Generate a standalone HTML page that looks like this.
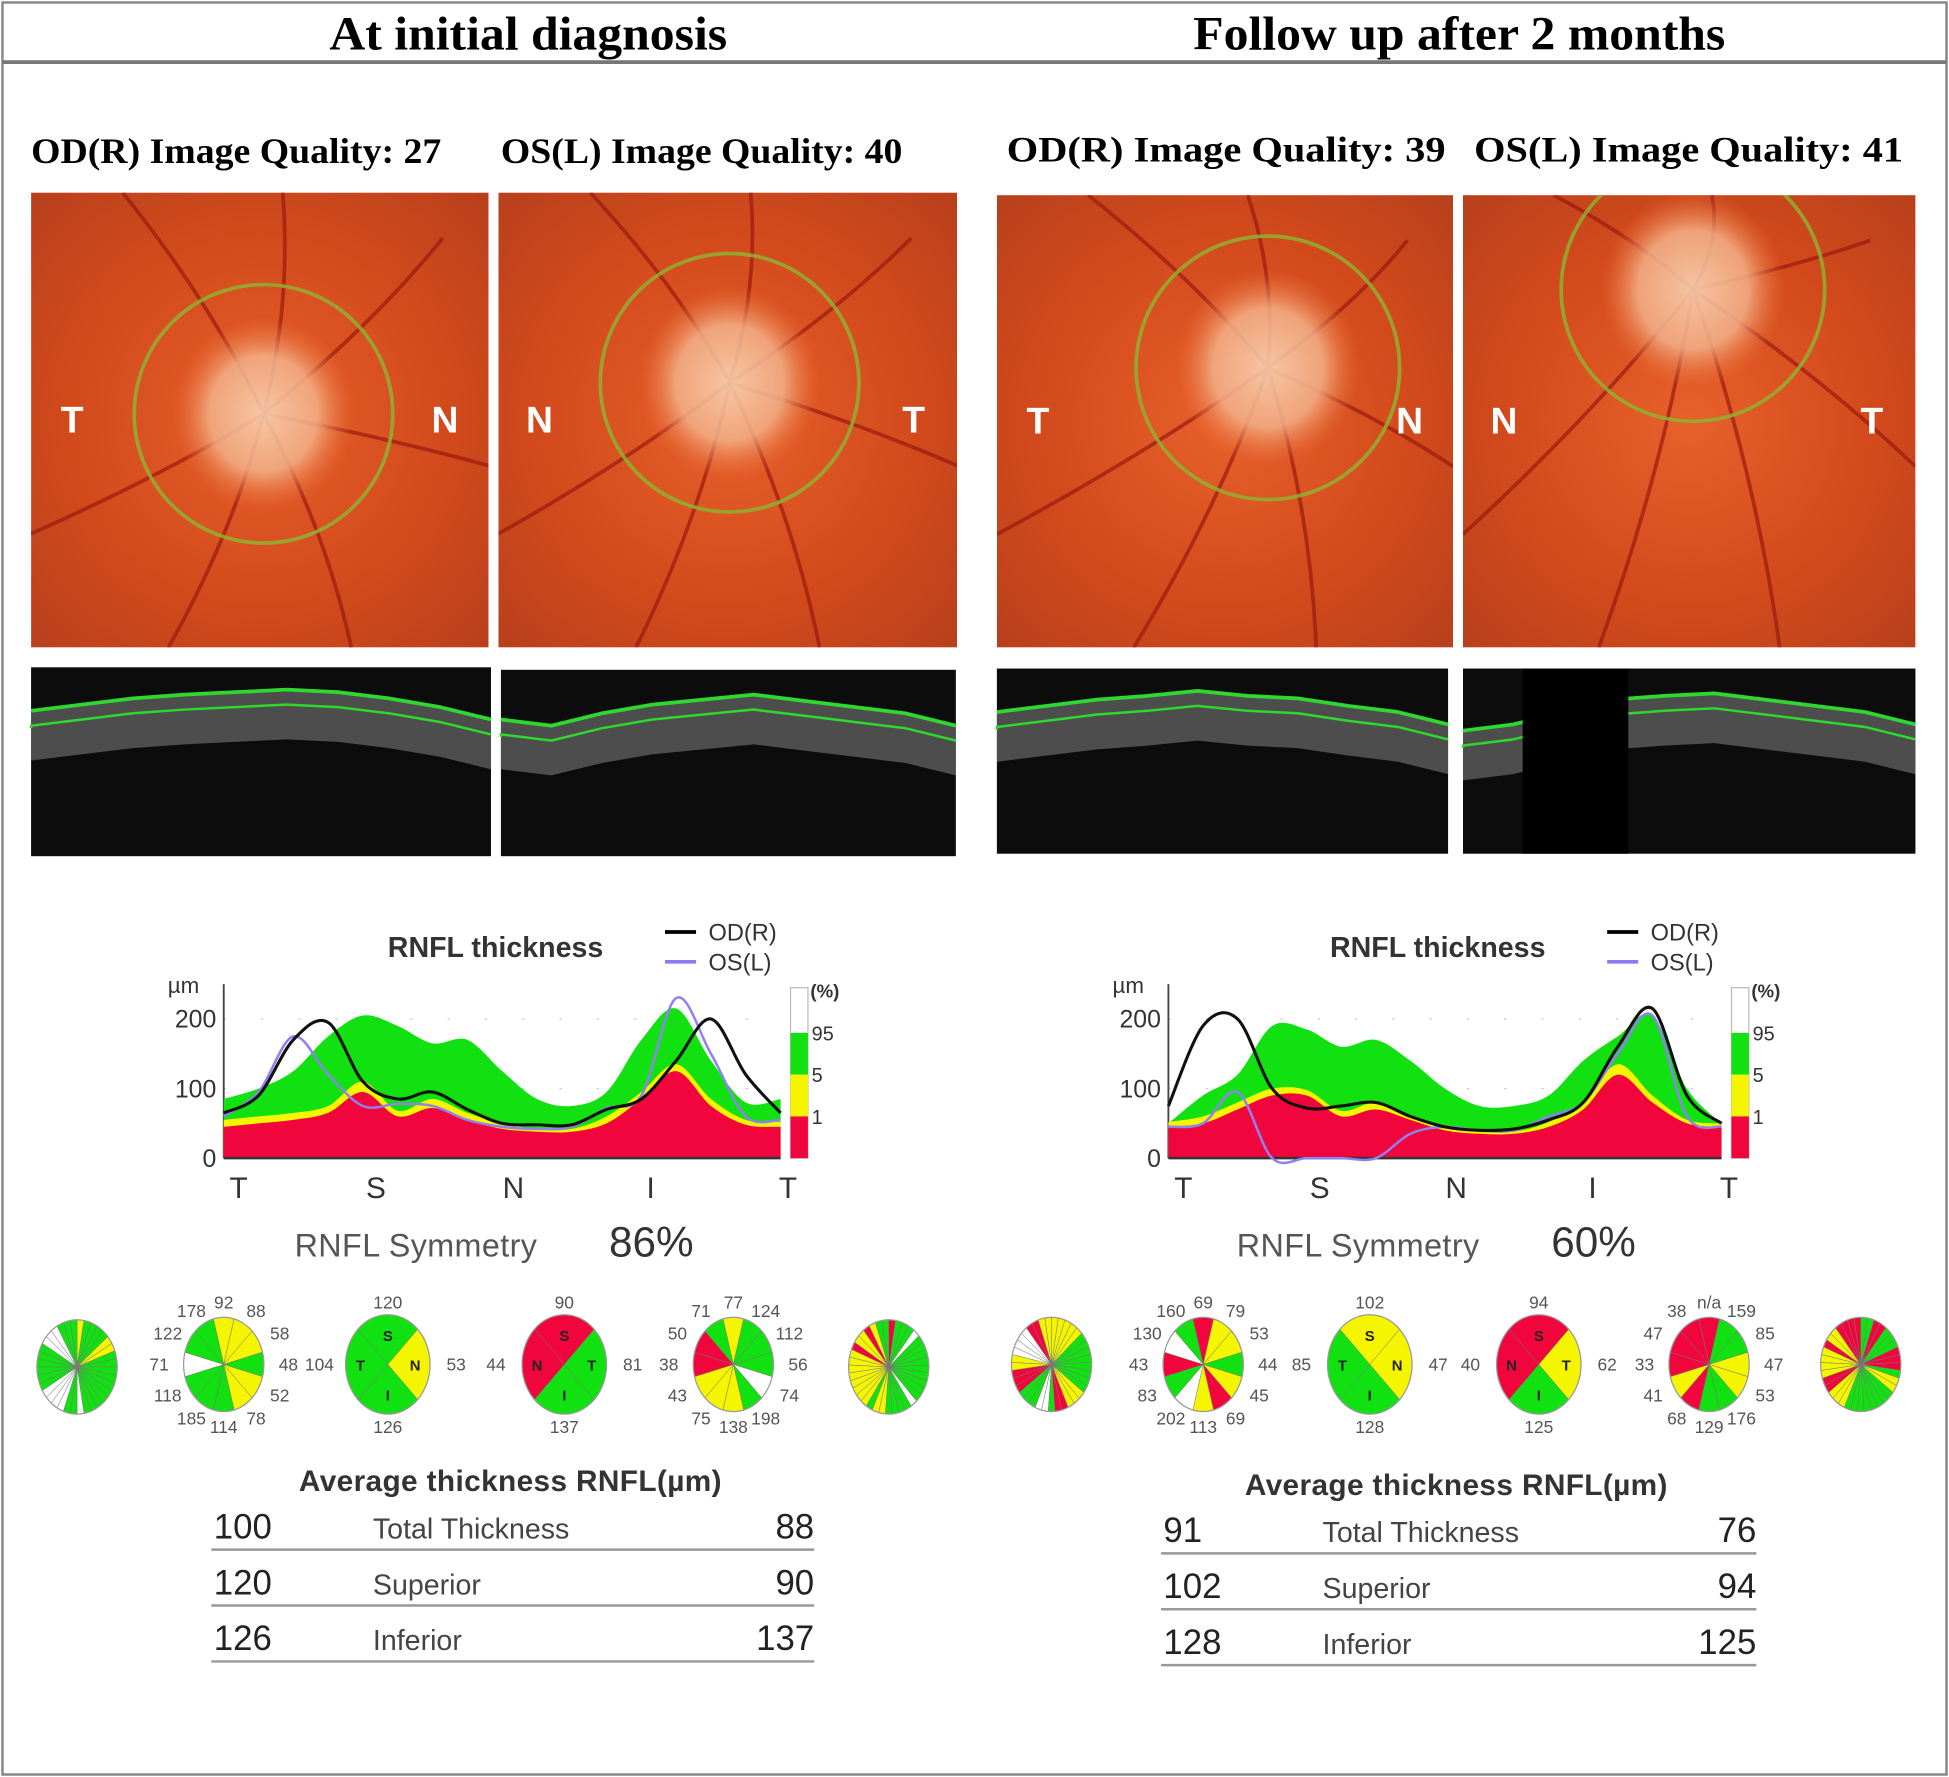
<!DOCTYPE html>
<html><head><meta charset="utf-8"><title>RNFL OCT comparison</title>
<style>
html,body{margin:0;padding:0;background:#fff;}
svg{display:block;}
.serif{font-family:"Liberation Serif",serif;}
.sans{font-family:"Liberation Sans",sans-serif;}
</style></head>
<body>
<svg id="fig" width="1949" height="1777" viewBox="0 0 1568 1430" preserveAspectRatio="none" xmlns="http://www.w3.org/2000/svg">
<defs id="defs">
<radialGradient id="fundusBg" cx="50%" cy="50%" r="70%">
<stop offset="0" stop-color="#e8602a"/><stop offset="0.6" stop-color="#d24a1c"/><stop offset="1" stop-color="#b8401c"/>
</radialGradient>
<radialGradient id="disc" cx="50%" cy="50%" r="50%">
<stop offset="0" stop-color="#fbd8b8"/><stop offset="0.6" stop-color="#f2b088"/><stop offset="1" stop-color="#e8703a" stop-opacity="0"/>
</radialGradient>
</defs>
<rect x="0" y="0" width="1568" height="1430" fill="#fff"/>
<rect x="2" y="2" width="1564" height="1426" fill="none" stroke="#888" stroke-width="2"/>
<line x1="2" y1="50" x2="1566" y2="50" stroke="#777" stroke-width="3"/>
<text x="265" y="40" textLength="320" lengthAdjust="spacingAndGlyphs" class="serif" font-size="38" font-weight="bold">At initial diagnosis</text>
<text x="960" y="40" textLength="428" lengthAdjust="spacingAndGlyphs" class="serif" font-size="38" font-weight="bold">Follow up after 2 months</text>
<text x="25" y="131" textLength="330" lengthAdjust="spacingAndGlyphs" class="serif" font-size="29" font-weight="bold">OD(R) Image Quality: 27</text>
<text x="403" y="131" textLength="323" lengthAdjust="spacingAndGlyphs" class="serif" font-size="29" font-weight="bold">OS(L) Image Quality: 40</text>
<text x="810" y="130" textLength="353" lengthAdjust="spacingAndGlyphs" class="serif" font-size="29" font-weight="bold">OD(R) Image Quality: 39</text>
<text x="1186" y="130" textLength="345" lengthAdjust="spacingAndGlyphs" class="serif" font-size="29" font-weight="bold">OS(L) Image Quality: 41</text>
<g id="images"></g>
<g id="charts"></g>
<g id="pies"></g>
<g id="tables"></g>
</svg>
<script>
// ---------- chart data ----------
const sectorLabels = ["T","S","N","I","T"];
const yTicks = [0,100,200];
const legendPct = ["95","5","1"];
const leftRed    = [45,50,55,65,95,60,72,55,42,38,38,50,85,125,75,48,45];
const leftYellow = [55,60,65,75,110,68,85,65,50,42,42,60,95,135,85,55,52];
const leftGreen  = [85,100,125,175,205,190,165,170,125,85,75,95,170,215,140,80,85];
const leftOD     = [65,90,170,195,110,85,95,70,50,48,48,70,85,140,200,120,65];
const leftOS     = [60,95,175,120,75,78,75,55,45,42,45,72,90,230,150,60,55];
const rightRed    = [45,50,70,90,90,60,70,55,40,35,35,45,70,120,80,50,45];
const rightYellow = [52,60,80,100,98,68,80,62,45,38,38,52,82,135,90,55,50];
const rightGreen  = [50,90,120,190,185,160,170,140,100,75,75,90,140,175,205,100,50];
const rightOD     = [75,190,200,100,72,75,80,60,45,40,42,55,80,160,215,90,50];
const rightOS     = [45,50,95,0,0,0,0,35,45,40,40,60,80,150,205,60,45];
const leftSymmetry = "86%";
const rightSymmetry = "60%";

// ---------- pies ----------
const clockLOD = {vals:["92","88","58","48","52","78","114","185","118","71","122","178"], cols:"yyygyygggwggg"};
const clockLOS = {vals:["77","124","112","56","74","198","138","75","43","38","50","71"], cols:"ygggwgyyyrr"};
const clockROD = {vals:["69","79","53","44","45","69","113","202","83","43","130","160"], cols:"ryygyrywgrwg"};
const clockROS = {vals:["n/a","159","85","47","53","176","129","68","41","33","47","38"], cols:"rggyyggryrrr"};
const quadLOD = {labels:["S","N","I","T"], vals:["120","53","126","104"], cols:"gygg"};
const quadLOS = {labels:["S","T","I","N"], vals:["90","81","137","44"], cols:"rggr"};
const quadROD = {labels:["S","N","I","T"], vals:["102","47","128","85"], cols:"yygg"};
const quadROS = {labels:["S","T","I","N"], vals:["94","62","125","40"], cols:"rygr"};
const fine1 = "yggggyyggggggggggwggwwwwggggggwwwggg";
const fine2 = "rgggwgggggggggwggggyygyyyyyyyyryyrygg";
const fine3 = "yyyyyggggggggyyyrrgwwgggrrryywwwwrryy";
const fine4 = "ggrrgggrrrgyyggggggggyyyrryyyyryyrrrr";

const NS="http://www.w3.org/2000/svg";
function el(tag,attrs,parent){const e=document.createElementNS(NS,tag);for(const k in attrs)e.setAttribute(k,attrs[k]);parent.appendChild(e);return e;}
const COL={r:"#f0053c",y:"#f5f500",g:"#11e011",w:"#ffffff"};

// ---------- fundus images & OCT ----------
const imgG=document.getElementById('images');
const defs=document.getElementById('defs');
let clipN=0;
function fundus(x,y,w,h,cx,cy,r,lL,lR,name){
  const cid='clip'+(clipN++);
  const cp=el('clipPath',{id:cid},defs);
  el('rect',{x:x,y:y,width:w,height:h},cp);
  const g=el('g',{"clip-path":`url(#${cid})`},imgG);
  
  
  el('rect',{x:x,y:y,width:w,height:h,fill:'url(#fundusBg)'},g);
  const vs=[[cx,cy,x+w*0.2,y],[cx,cy,x+w*0.55,y],[cx,cy,x+w*0.9,y+h*0.1],[cx,cy,x+w*0.3,y+h],[cx,cy,x+w*0.7,y+h],[cx,cy,x+w,y+h*0.6],[cx,cy,x,y+h*0.75]];
  vs.forEach(v=>el('path',{d:`M${v[0]},${v[1]} Q${(v[0]+v[2])/2+15},${(v[1]+v[3])/2} ${v[2]},${v[3]}`,stroke:'#9a1a10',"stroke-width":3,fill:'none',opacity:0.7},g));
  el('ellipse',{cx:cx,cy:cy,rx:r*0.7,ry:r*0.75,fill:'url(#disc)',opacity:0.85},g);
  el('circle',{cx:cx,cy:cy,r:r,fill:'none',stroke:'#8fb030',"stroke-width":3,opacity:0.85},g);
  el('text',{x:x+33,y:y+h/2+10,"font-size":30,"font-weight":"bold",fill:"#fff","text-anchor":"middle","font-family":"Liberation Sans,sans-serif"},g).textContent=lL;
  el('text',{x:x+w-35,y:y+h/2+10,"font-size":30,"font-weight":"bold",fill:"#fff","text-anchor":"middle","font-family":"Liberation Sans,sans-serif"},g).textContent=lR;
}
fundus(25,155,368,366,212,333,104,"T","N","fundus-od-initial");
fundus(401,155,369,366,587,308,104,"N","T","fundus-os-initial");
fundus(802,157,367,364,1020,296,106,"T","N","fundus-od-followup");
fundus(1177,157,364,364,1362,233,106,"N","T","fundus-os-followup");
function oct(x,y,w,h,pts,name,gap){
  const g=el('g',{},imgG);
  
  
  el('rect',{x:x,y:y,width:w,height:h,fill:'#0c0c0c'},g);
  let d=`M${x},${y+pts[0]}`;pts.forEach((p,i)=>{d+=` L${x+w*i/(pts.length-1)},${y+p}`;});
  let band=d;for(let i=pts.length-1;i>=0;i--)band+=` L${x+w*i/(pts.length-1)},${y+pts[i]+40}`;band+='Z';
  el('path',{d:band,fill:'#7a7a7a',opacity:0.6},g);
  el('path',{d:d,fill:'none',stroke:'#2ed82e',"stroke-width":3},g);
  let d2=`M${x},${y+pts[0]+14}`;pts.forEach((p,i)=>{d2+=` L${x+w*i/(pts.length-1)},${y+p+12}`;});
  el('path',{d:d2,fill:'none',stroke:'#2ed82e',"stroke-width":2},g);
  if(gap)el('rect',{x:gap[0],y:y,width:gap[1],height:h,fill:'#000'},g);
}
oct(25,537,370,152,[35,30,25,22,20,18,20,25,32,42],"oct-od-initial");
oct(403,539,366,150,[40,45,35,28,24,20,25,30,35,45],"oct-os-initial");
oct(802,538,363,149,[35,30,25,22,18,22,24,30,35,45],"oct-od-followup");
oct(1177,538,364,149,[50,45,35,25,22,20,25,30,35,45],"oct-os-followup",[1225,85]);

// ---------- charts ----------
const chG=document.getElementById('charts');
function smooth(pts){let d=`M${pts[0][0]},${pts[0][1]}`;for(let i=0;i<pts.length-1;i++){const p0=pts[i-1]||pts[i],p1=pts[i],p2=pts[i+1],p3=pts[i+2]||p2;d+=` C${p1[0]+(p2[0]-p0[0])/6},${p1[1]+(p2[1]-p0[1])/6} ${p2[0]-(p3[0]-p1[0])/6},${p2[1]-(p3[1]-p1[1])/6} ${p2[0]},${p2[1]}`;}return d;}
function chart(ox,x0,x1,y0,red,yel,grn,od,os,sym,name){
  const g=el('g',{},chG);
  
  
  const xs=i=>x0+(x1-x0)*i/(red.length-1);
  const ys=v=>y0-v*0.56;
  const t=el('text',{x:ox+312,y:y0-162,"font-size":23,"font-weight":"bold",fill:"#333","font-family":"Liberation Sans,sans-serif"},g);t.textContent="RNFL thickness";
  
  const lg=el('g',{},g);
  
  
  el('line',{x1:ox+535,y1:y0-182,x2:ox+560,y2:y0-182,stroke:'#000',"stroke-width":3},lg);
  el('text',{x:ox+570,y:y0-175,"font-size":19,fill:'#333',"font-family":"Liberation Sans,sans-serif"},lg).textContent="OD(R)";
  el('line',{x1:ox+535,y1:y0-158,x2:ox+560,y2:y0-158,stroke:'#8a7af0',"stroke-width":3},lg);
  el('text',{x:ox+570,y:y0-151,"font-size":19,fill:'#333',"font-family":"Liberation Sans,sans-serif"},lg).textContent="OS(L)";
  el('text',{x:x0-45,y:y0-133,"font-size":18,fill:'#333',"font-family":"Liberation Sans,sans-serif"},g).textContent="µm";
  yTicks.forEach(v=>{const tt=el('text',{x:x0-6,y:ys(v)+7,"font-size":20,fill:'#333',"text-anchor":"end","font-family":"Liberation Sans,sans-serif"},g);tt.textContent=v;
    
    if(v>0)el('line',{x1:x0,y1:ys(v),x2:x1,y2:ys(v),stroke:'#ccc',"stroke-dasharray":"2,28"},g);});
  el('line',{x1:x0,y1:ys(0),x2:x0,y2:ys(250),stroke:'#444',"stroke-width":1.5},g);
  function area(arr,col,nm){const pts=arr.map((v,i)=>[xs(i),ys(v)]);const a=el('path',{d:smooth(pts)+` L${x1},${ys(0)} L${x0},${ys(0)}Z`,fill:col},g);}
  area(grn,COL.g,'band-95pct');area(yel,COL.y,'band-5pct');area(red,COL.r,'band-1pct');
  el('line',{x1:x0,y1:ys(0),x2:x1,y2:ys(0),stroke:'#333',"stroke-width":2},g);
  const l2=el('path',{d:smooth(os.map((v,i)=>[xs(i),ys(v)])),fill:'none',stroke:'#9080f0',"stroke-width":2},g);
  
  const l1=el('path',{d:smooth(od.map((v,i)=>[xs(i),ys(v)])),fill:'none',stroke:'#111',"stroke-width":2.5},g);
  
  sectorLabels.forEach((s,i)=>{const tt=el('text',{x:x0+12+(x1-x0-6)*i/4,y:y0+32,"font-size":24,fill:'#333',"text-anchor":"middle","font-family":"Liberation Sans,sans-serif"},g);tt.textContent=s;
    });
  const bx=x1+8;
  el('rect',{x:bx,y:ys(245),width:14,height:ys(0)-ys(245),fill:'#fff',stroke:'#bbb'},g);
  el('rect',{x:bx,y:ys(180),width:14,height:ys(120)-ys(180),fill:COL.g},g);
  el('rect',{x:bx,y:ys(120),width:14,height:ys(60)-ys(120),fill:COL.y},g);
  el('rect',{x:bx,y:ys(60),width:14,height:ys(0)-ys(60),fill:COL.r},g);
  el('text',{x:bx+16,y:ys(245)+8,"font-size":15,"font-weight":"bold",fill:'#333',"font-family":"Liberation Sans,sans-serif"},g).textContent="(%)";
  [[180,legendPct[0]],[120,legendPct[1]],[60,legendPct[2]]].forEach(p=>el('text',{x:bx+17,y:ys(p[0])+6,"font-size":16,fill:'#333',"font-family":"Liberation Sans,sans-serif"},g).textContent=p[1]);
  const s1=el('text',{x:ox+237,y:y0+79,"font-size":26,fill:'#555',"textLength":195,"font-family":"Liberation Sans,sans-serif"},g);s1.textContent="RNFL Symmetry";
  
  const s2=el('text',{x:ox+490,y:y0+79,"font-size":34,fill:'#333',"font-family":"Liberation Sans,sans-serif"},g);s2.textContent=sym;
  
}
chart(0,180,628,932,leftRed,leftYellow,leftGreen,leftOD,leftOS,leftSymmetry,"rnfl-chart-initial");
chart(758,940,1385,932,rightRed,rightYellow,rightGreen,rightOD,rightOS,rightSymmetry,"rnfl-chart-followup");

// ---------- pies ----------
const pG=document.getElementById('pies');
const SX=0.85;
function sector(g,cx,cy,r,a0,a1,col){
  const p=a=>[cx+Math.sin(a)*r*SX,cy-Math.cos(a)*r];
  const [x0,y0]=p(a0),[x1,y1]=p(a1);
  el('path',{d:`M${cx},${cy} L${x0},${y0} A${r*SX},${r} 0 ${a1-a0>Math.PI?1:0} 1 ${x1},${y1}Z`,fill:col,stroke:'#777',"stroke-width":0.4},g);
}
function fine(cx,cy,cols,name){
  const g=el('g',{},pG);
  
  
  const n=cols.length;for(let i=0;i<n;i++)sector(g,cx,cy,38,i/n*2*Math.PI,(i+1)/n*2*Math.PI,COL[cols[i]]);
  el('ellipse',{cx:cx,cy:cy,rx:38*SX,ry:38,fill:'none',stroke:'#999'},g);
}
function clock(cx,cy,c,name){
  const g=el('g',{},pG);
  
  
  for(let i=0;i<12;i++){const a=(i-0.5)/12*2*Math.PI;sector(g,cx,cy,38,a,a+Math.PI/6,COL[c.cols[i]||'g']);
    const ta=i/12*2*Math.PI;
    el('text',{x:cx+Math.sin(ta)*52,y:cy-Math.cos(ta)*50+5,"font-size":14,fill:'#555',"text-anchor":"middle","font-family":"Liberation Sans,sans-serif"},g).textContent=c.vals[i];}
  el('ellipse',{cx:cx,cy:cy,rx:38*SX,ry:38,fill:'none',stroke:'#999'},g);
}
function quad(cx,cy,q,name){
  const g=el('g',{},pG);
  
  
  for(let i=0;i<4;i++){const a=-Math.PI/4+i*Math.PI/2;sector(g,cx,cy,40,a,a+Math.PI/2,COL[q.cols[i]]);
    const ta=i*Math.PI/2;
    el('text',{x:cx+Math.sin(ta)*22,y:cy-Math.cos(ta)*24+5,"font-size":12,"font-weight":"bold",fill:'#222',"text-anchor":"middle","font-family":"Liberation Sans,sans-serif"},g).textContent=q.labels[i];
    el('text',{x:cx+Math.sin(ta)*55,y:cy-Math.cos(ta)*50+5,"font-size":14,fill:'#555',"text-anchor":"middle","font-family":"Liberation Sans,sans-serif"},g).textContent=q.vals[i];}
  el('ellipse',{cx:cx,cy:cy,rx:40*SX,ry:40,fill:'none',stroke:'#999'},g);
}
fine(62,1100,fine1,"fine-sector-od-initial");
clock(180,1098,clockLOD,"clock-od-initial");
quad(312,1098,quadLOD,"quadrant-od-initial");
quad(454,1098,quadLOS,"quadrant-os-initial");
clock(590,1098,clockLOS,"clock-os-initial");
fine(715,1100,fine2,"fine-sector-os-initial");
fine(846,1098,fine3,"fine-sector-od-followup");
clock(968,1098,clockROD,"clock-od-followup");
quad(1102,1098,quadROD,"quadrant-od-followup");
quad(1238,1098,quadROS,"quadrant-os-followup");
clock(1375,1098,clockROS,"clock-os-followup");
fine(1497,1098,fine4,"fine-sector-os-followup");

// ---------- tables ----------
const tG=document.getElementById('tables');
const rowNames=["Total Thickness","Superior","Inferior"];
const leftOdAvg=["100","120","126"], leftOsAvg=["88","90","137"];
const rightOdAvg=["91","102","128"], rightOsAvg=["76","94","125"];
function table(x0,x1,ytop,od,os,name){
  const g=el('g',{},tG);
  
  
  el('text',{x:(x0+x1)/2-2,y:ytop,"font-size":24,"font-weight":"bold",fill:'#333',"text-anchor":"middle","textLength":340,"font-family":"Liberation Sans,sans-serif"},g).textContent="Average thickness RNFL(µm)";
  rowNames.forEach((n,i)=>{const y=ytop+38+i*45;
    el('text',{x:x0+2,y:y,"font-size":28,fill:'#222',"font-family":"Liberation Sans,sans-serif"},g).textContent=od[i];
    el('text',{x:x0+130,y:y,"font-size":23,fill:'#444',"font-family":"Liberation Sans,sans-serif"},g).textContent=n;
    el('text',{x:x1,y:y,"font-size":28,fill:'#222',"text-anchor":"end","font-family":"Liberation Sans,sans-serif"},g).textContent=os[i];
    el('line',{x1:x0,y1:y+9,x2:x1,y2:y+9,stroke:'#999',"stroke-width":2},g);});
}
table(170,655,1200,leftOdAvg,leftOsAvg,"avg-thickness-table-initial");
table(934,1413,1203,rightOdAvg,rightOsAvg,"avg-thickness-table-followup");
</script>
</body></html>
